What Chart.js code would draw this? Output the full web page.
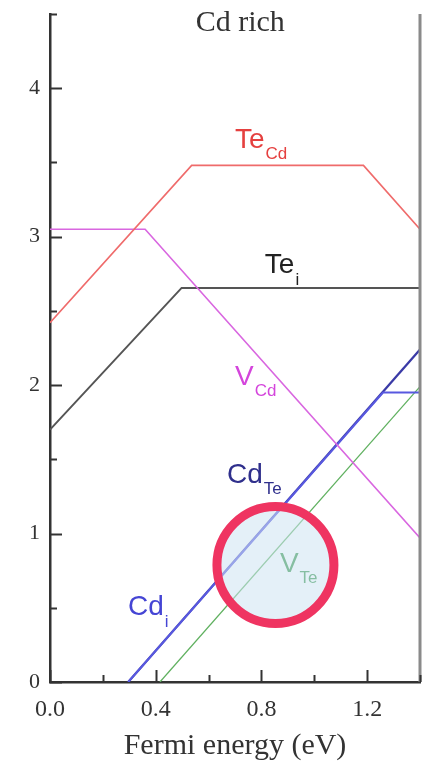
<!DOCTYPE html>
<html>
<head>
<meta charset="utf-8">
<title>Cd rich</title>
<script src="https://cdn.jsdelivr.net/npm/chart.js@4.4.1/dist/chart.umd.min.js"></script>
<style>
  html, body { margin: 0; padding: 0; background: #fff; }
  #chart { display: block; }
</style>
</head>
<body>
<canvas id="chart" width="429" height="761"></canvas>
<script>
// Formation energy (eV) vs Fermi energy (eV), Cd-rich limit
const teCdX = [0, 0.536, 1.186, 1.4];
const teCdY = [2.42, 3.48, 3.48, 3.05];
const vCdX = [0, 0.36, 1.4];
const vCdY = [3.05, 3.05, 0.97];
const teIX = [0, 0.498, 1.4];
const teIY = [1.70, 2.655, 2.655];
const cdTeX = [0.296, 1.4];
const cdTeY = [0, 2.24];
const cdIX = [0.296, 1.26, 1.4];
const cdIY = [0, 1.95, 1.95];
const vTeX = [0.416, 1.4];
const vTeY = [0, 1.99];

const xTicks = [0, 0.2, 0.4, 0.6, 0.8, 1.0, 1.2, 1.4];
const xLabelTicks = [0, 0.4, 0.8, 1.2];
const yTicks = [0, 0.5, 1, 1.5, 2, 2.5, 3, 3.5, 4, 4.5];
const yLabelTicks = [0, 1, 2, 3, 4];

// defect names: main text, subscript, anchor (x, y) in data units
const defectNames = ["Te", "Te", "V", "Cd", "Cd", "V"];
const defectSubs = ["Cd", "i", "Cd", "Te", "i", "Te"];
const defectLabelX = [0.70, 0.813, 0.70, 0.67, 0.295, 0.87];
const defectLabelY = [3.60, 2.754, 2.00, 1.34, 0.45, 0.74];
const defectLabelSubDrop = [11, 12, 11, 11, 12, 11];
const defectLabelColors = ["#e5403f", "#222222", "#d445dc", "#2f2f8c", "#4545d4", "#2f9140"];

// highlighted region around V_Te
const markCenter = [0.853, 0.788];

const SERIF = "'Liberation Serif', 'Times New Roman', serif";
const SANS = "'Liberation Sans', Arial, sans-serif";

function pts(xs, ys) {
  return xs.map((x, i) => ({ x: x, y: ys[i] }));
}

function line(xs, ys, color, width) {
  return {
    data: pts(xs, ys),
    borderColor: color,
    borderWidth: width,
    pointRadius: 0,
    tension: 0,
    fill: false
  };
}

// no extra room for label overhang; the frame sits at fixed edges
function noPad(s) {
  s.paddingTop = 0;
  s.paddingBottom = 0;
  s.paddingLeft = 0;
  s.paddingRight = 0;
}

const extras = {
  id: "extras",
  afterDatasetsDraw(chart) {
    const ctx = chart.ctx;
    const xs = chart.scales.x;
    const ys = chart.scales.y;
    const area = chart.chartArea;
    ctx.save();

    // right frame line
    ctx.strokeStyle = "#8a8a8a";
    ctx.lineWidth = 3;
    ctx.beginPath();
    ctx.moveTo(area.right, area.top);
    ctx.lineTo(area.right, area.bottom);
    ctx.stroke();

    // inward tick marks
    ctx.strokeStyle = "#333";
    ctx.lineWidth = 2;
    yTicks.forEach(v => {
      const py = Math.round(ys.getPixelForValue(v)) + 0.5;
      const len = yLabelTicks.includes(v) ? 12 : 7;
      ctx.beginPath();
      ctx.moveTo(area.left, py);
      ctx.lineTo(area.left + len, py);
      ctx.stroke();
    });
    xTicks.forEach(v => {
      const px = Math.round(xs.getPixelForValue(v)) + 0.5;
      const len = xLabelTicks.includes(v) ? 12 : 7;
      ctx.beginPath();
      ctx.moveTo(px, area.bottom);
      ctx.lineTo(px, area.bottom - len);
      ctx.stroke();
    });

    // panel title
    ctx.fillStyle = "#333";
    ctx.font = "30px " + SERIF;
    ctx.textAlign = "center";
    ctx.textBaseline = "middle";
    ctx.fillText("Cd rich", xs.getPixelForValue(0.72), area.top + 9);

    // defect labels with subscripts
    ctx.textAlign = "left";
    ctx.textBaseline = "alphabetic";
    defectNames.forEach((name, i) => {
      const px = xs.getPixelForValue(defectLabelX[i]);
      const py = ys.getPixelForValue(defectLabelY[i]);
      ctx.fillStyle = defectLabelColors[i];
      ctx.font = "28px " + SANS;
      ctx.fillText(name, px, py);
      const w = ctx.measureText(name).width;
      ctx.font = "17px " + SANS;
      ctx.fillText(defectSubs[i], px + w + 1, py + defectLabelSubDrop[i]);
    });

    // highlight circle
    const cx = xs.getPixelForValue(markCenter[0]);
    const cy = ys.getPixelForValue(markCenter[1]);
    ctx.beginPath();
    ctx.arc(cx, cy, 58.5, 0, Math.PI * 2);
    ctx.fillStyle = "rgba(206, 228, 242, 0.55)";
    ctx.fill();
    ctx.lineWidth = 9;
    ctx.strokeStyle = "#ef3461";
    ctx.stroke();

    ctx.restore();
  }
};

new Chart(document.getElementById("chart"), {
  type: "line",
  data: {
    datasets: [
      line(teCdX, teCdY, "#ef6b6b", 1.6),
      line(vCdX, vCdY, "#d967e0", 1.6),
      line(teIX, teIY, "#555555", 2),
      line(cdIX, cdIY, "#5858e0", 2),
      line(cdTeX, cdTeY, "#3a3aa6", 2.2),
      line(vTeX, vTeY, "#5fb05f", 1.3)
    ]
  },
  options: {
    responsive: false,
    animation: false,
    layout: { padding: { top: 14, right: 9, left: 0, bottom: 0 } },
    plugins: {
      legend: { display: false },
      tooltip: { enabled: false }
    },
    scales: {
      x: {
        type: "linear",
        min: 0,
        max: 1.4,
        afterBuildTicks: s => { s.ticks = xTicks.map(v => ({ value: v })); },
        afterFit: s => { s.height = 79; noPad(s); },
        grid: { display: false, drawTicks: false },
        border: { display: true, color: "#333", width: 2.5 },
        ticks: {
          padding: 13,
          color: "#333",
          font: { family: SERIF, size: 24 },
          maxRotation: 0,
          autoSkip: false,
          callback: v => xLabelTicks.includes(v) ? v.toFixed(1) : ""
        },
        title: {
          display: true,
          text: "Fermi energy (eV)",
          color: "#333",
          font: { family: SERIF, size: 30, lineHeight: 1.0 },
          padding: { top: 0, bottom: 0 }
        }
      },
      y: {
        type: "linear",
        min: 0,
        max: 4.5,
        afterBuildTicks: s => { s.ticks = yTicks.map(v => ({ value: v })); },
        afterFit: s => { s.width = 50; noPad(s); },
        grid: { display: false, drawTicks: false },
        border: { display: true, color: "#333", width: 2.5 },
        ticks: {
          padding: 10,
          color: "#333",
          font: { family: SERIF, size: 22 },
          autoSkip: false,
          callback: v => yLabelTicks.includes(v) ? String(v) : ""
        }
      }
    }
  },
  plugins: [extras]
});
</script>
</body>
</html>
